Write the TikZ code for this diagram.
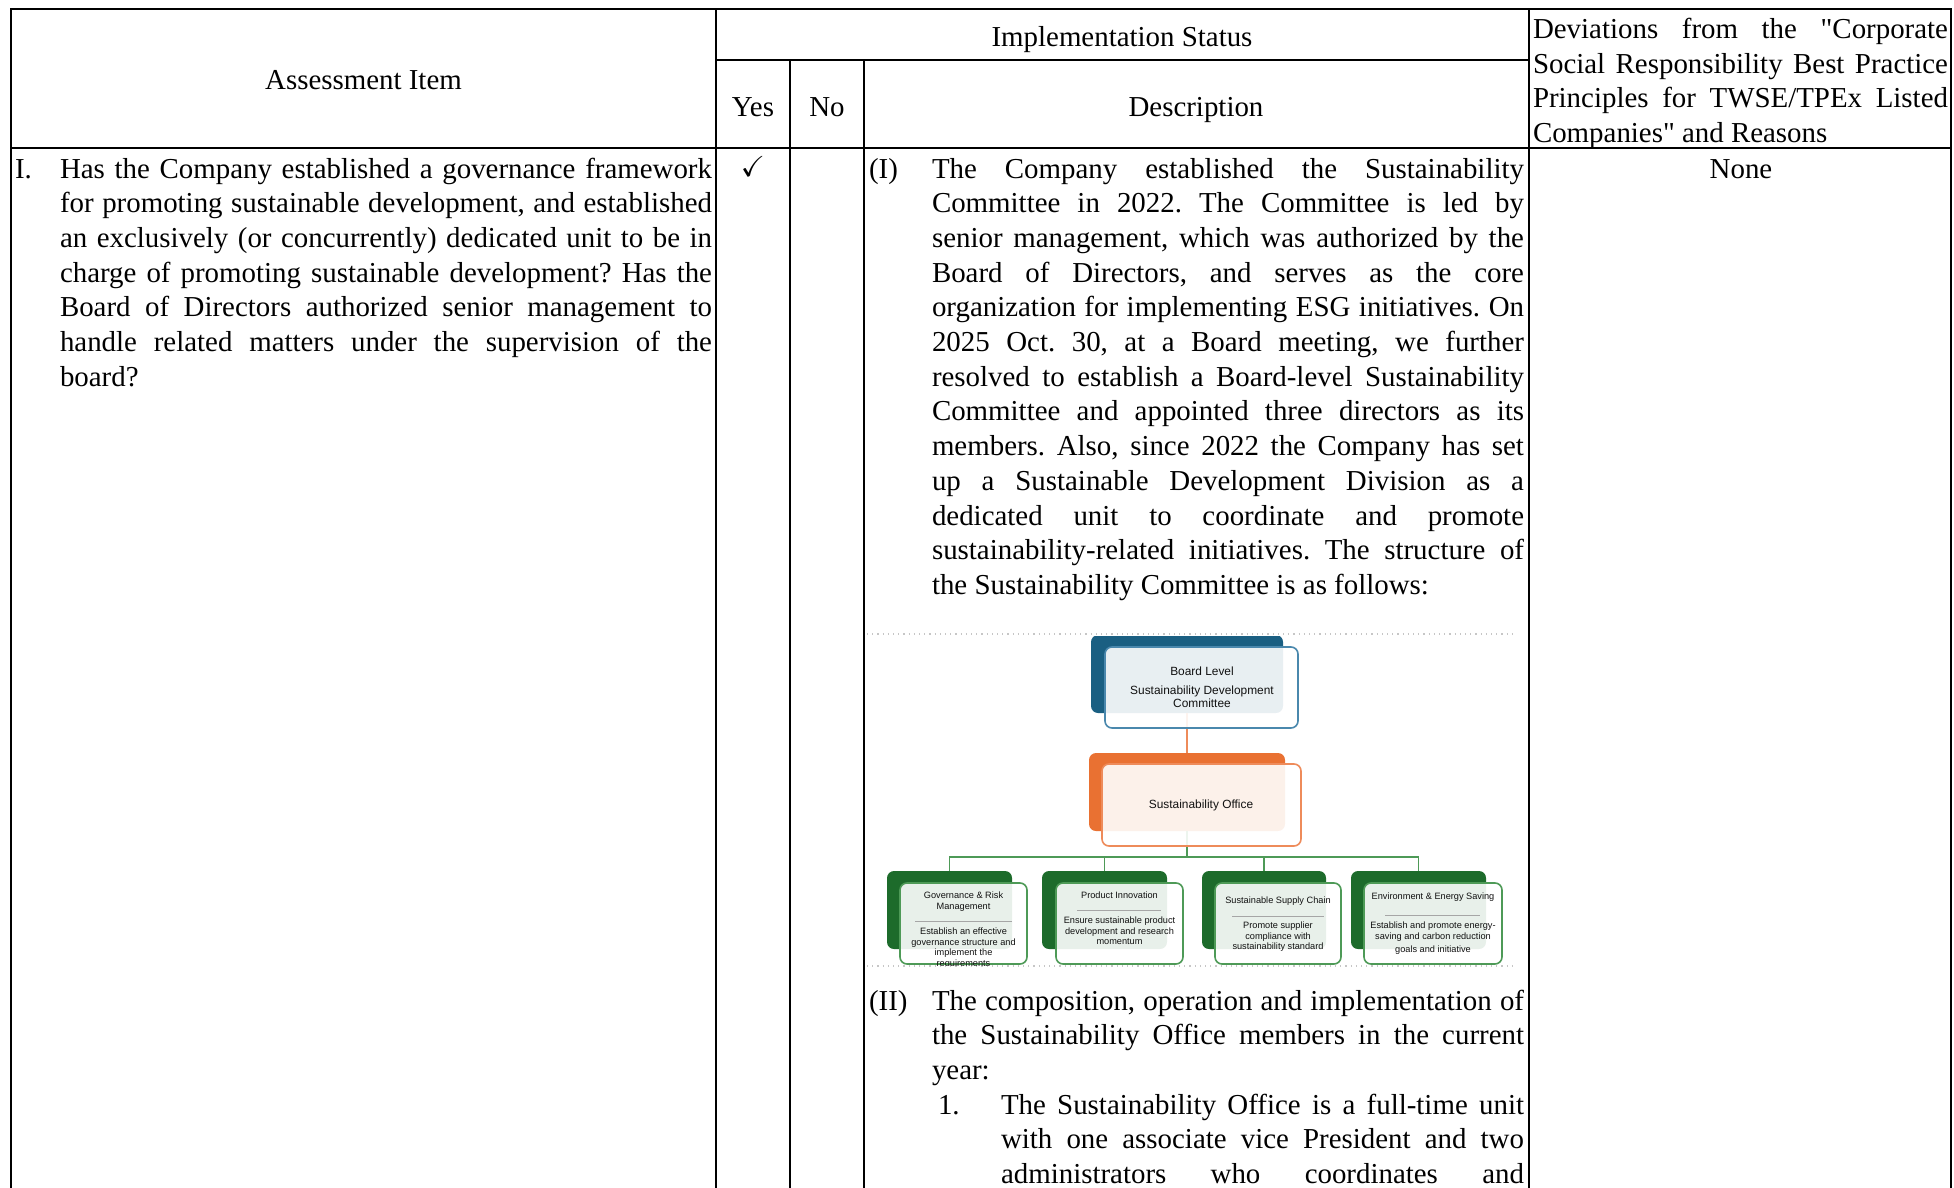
\documentclass[tikz,border=0pt]{standalone}
\usepackage{fontspec}
\usepackage{amssymb}
\setmainfont{Liberation Serif}[Ligatures=TeXOff]
\newfontfamily\chartfont{Liberation Sans}

\definecolor{boardblue}{HTML}{1A5F82}
\definecolor{boardline}{HTML}{4A88AD}
\definecolor{officeorange}{HTML}{E97132}
\definecolor{officeline}{HTML}{EE8B5A}
\definecolor{unitgreen}{HTML}{1D6B2B}
\definecolor{unitline}{HTML}{4E9A57}
\definecolor{chartink}{HTML}{111111}

\tikzset{
  tableline/.style={line width=1pt, black, line cap=rect},
  body/.style={font=\fontsize{14.45}{17.35}\selectfont\frenchspacing, inner sep=0pt, outer sep=0pt},
  para/.style={body, align=justify, anchor=base west},
  backbox/.style={rounded corners=3.5pt, inner sep=0pt, outer sep=0pt, minimum height=39pt},
  frontbox/.style={draw, line width=0.8pt, fill=white, fill opacity=0.9, rounded corners=3.5pt,
    inner sep=0pt, outer sep=0pt, minimum height=40.5pt},
  chartbig/.style={font=\chartfont\fontsize{5.95}{6.5}\selectfont, text=chartink, inner sep=0pt, align=center},
  chartsmall/.style={font=\chartfont\fontsize{4.6}{5.3}\selectfont, text=chartink, inner sep=0pt, align=center},
  divider/.style={line width=0.5pt, gray!70},
  tree/.style={line width=0.8pt}
}

\begin{document}
\begin{tikzpicture}[x=0.5pt, y=-0.5pt]

  \useasboundingbox (0,0) rectangle (1954,1188);

  % Table rules
  \draw [tableline] (11,9) -- (1951,9);
  \draw [tableline] (716,60) -- (1529,60);
  \draw [tableline] (11,148) -- (1951,148);
  \draw [tableline] (11,9) -- (11,1190);
  \draw [tableline] (716,9) -- (716,1190);
  \draw [tableline] (790,60) -- (790,1190);
  \draw [tableline] (864,60) -- (864,1190);
  \draw [tableline] (1529,9) -- (1529,1190);
  \draw [tableline] (1951,9) -- (1951,1190);

  % Header cells
  \node [body, anchor=base] (itemhead) at (363.5,89.5) {Assessment Item};
  \node [body, anchor=base] (statushead) at (1122,46.5) {Implementation Status};
  \node [body, anchor=base] (yeshead) at (753,116.5) {Yes};
  \node [body, anchor=base] (nohead) at (827,116.5) {No};
  \node [body, anchor=base] (deschead) at (1196,116.5) {Description};
  \node [para, text width=207.5pt] (devhead) at (1533,38.5)
    {Deviations from the "Corporate\linebreak
     Social Responsibility Best Practice\linebreak
     Principles for TWSE/TPEx Listed\linebreak
     Companies" and Reasons};

  % Assessment item
  \node [body, anchor=base west] (itemno) at (15,178) {I.};
  \node [para, text width=326pt] (itemtext) at (60,178)
    {Has the Company established a governance framework\linebreak
     for promoting sustainable development, and established\linebreak
     an exclusively (or concurrently) dedicated unit to be in\linebreak
     charge of promoting sustainable development? Has the\linebreak
     Board of Directors authorized senior management to\linebreak
     handle related matters under the supervision of the\linebreak
     board?};

  \node [body] (yesmark) at (753,166) {$\checkmark$};
  \node [body, anchor=base] (devnone) at (1741,178) {None};

  % Description, part (I)
  \node [body, anchor=base west] (partone) at (869,178) {(I)};
  \node [para, text width=296pt] (partonetext) at (932,178)
    {The Company established the Sustainability\linebreak
     Committee in 2022. The Committee is led by\linebreak
     senior management, which was authorized by the\linebreak
     Board of Directors, and serves as the core\linebreak
     organization for implementing ESG initiatives. On\linebreak
     2025 Oct. 30, at a Board meeting, we further\linebreak
     resolved to establish a Board-level Sustainability\linebreak
     Committee and appointed three directors as its\linebreak
     members. Also, since 2022 the Company has set\linebreak
     up a Sustainable Development Division as a\linebreak
     dedicated unit to coordinate and promote\linebreak
     sustainability-related initiatives. The structure of\linebreak
     the Sustainability Committee is as follows:};

  % Committee chart
  \draw [dotted, gray!45, line width=0.6pt] (867,634) -- (1512,634);
  \draw [dotted, gray!45, line width=0.6pt] (867,966) -- (1512,966);

  \begin{scope}
    \clip (866,636) rectangle (1516,965);

    \node [backbox, fill=boardblue, minimum width=96pt] (boardback) at (1187,674) {};
    \node [backbox, fill=officeorange, minimum width=98pt] (officeback) at (1187,792) {};
    \node [backbox, fill=unitgreen, minimum width=62.5pt] (govback) at (949.5,910) {};
    \node [backbox, fill=unitgreen, minimum width=62.5pt] (prodback) at (1104.5,910) {};
    \node [backbox, fill=unitgreen, minimum width=62pt] (supplyback) at (1264,910) {};
    \node [backbox, fill=unitgreen, minimum width=67.5pt] (envback) at (1418.5,910) {};

    % Lines between levels
    \coordinate (bar) at (1187,857);
    \draw [tree, officeline] (boardback.south) -- (officeback.north);
    \draw [tree, unitline] (officeback.south) -- (bar);
    \draw [tree, unitline] (bar) -| (govback.north);
    \draw [tree, unitline] (bar) -| (prodback.north);
    \draw [tree, unitline] (bar) -| (supplyback.north);
    \draw [tree, unitline] (bar) -| (envback.north);

    \node [frontbox, draw=boardline, minimum width=96.5pt] (boardfront) at (1201.5,687.5) {};
    \node [frontbox, draw=officeline, minimum width=99.5pt, minimum height=41pt] (officefront) at (1201.5,805) {};
    \node [frontbox, draw=unitline, minimum width=63.5pt] (govfront) at (963.5,923.5) {};
    \node [frontbox, draw=unitline, minimum width=63.5pt] (prodfront) at (1119.5,923.5) {};
    \node [frontbox, draw=unitline, minimum width=63pt] (supplyfront) at (1278,923.5) {};
    \node [frontbox, draw=unitline, minimum width=69pt] (envfront) at (1433,923.5) {};

    \node [chartbig] (boardtitle) at (1202,671) {Board Level};
    \node [chartbig] (boardname) at (1202,696.5) {Sustainability Development\\Committee};
    \node [chartbig] (officename) at (1201,805) {Sustainability Office};

    \node [chartsmall] (govtitle) at (963.5,901.5) {Governance \& Risk\\Management};
    \draw [divider] (915,921) -- (1012,921);
    \node [chartsmall] (govtext) at (963.5,948)
      {Establish an effective\\governance structure and\\implement the\\requirements};

    \node [chartsmall] (prodtitle) at (1119.5,895) {Product Innovation};
    \draw [divider] (1077,910) -- (1161,910);
    \node [chartsmall] (prodtext) at (1119.5,931)
      {Ensure sustainable product\\development and research\\momentum};

    \node [chartsmall] (supplytitle) at (1278,901) {Sustainable Supply Chain};
    \draw [divider] (1232,916) -- (1324,916);
    \node [chartsmall] (supplytext) at (1278,937)
      {Promote supplier\\compliance with\\sustainability standard};

    \node [chartsmall] (envtitle) at (1433,897) {Environment \& Energy Saving};
    \draw [divider] (1385,915) -- (1480,915);
    \node [chartsmall] (envtext) at (1433,938.5)
      {Establish and promote energy-\\saving and carbon reduction\\[1.5pt]goals and initiative};
  \end{scope}

  % Description, part (II)
  \node [body, anchor=base west] (parttwo) at (869,1010) {(II)};
  \node [para, text width=296pt] (parttwotext) at (932,1010)
    {The composition, operation and implementation of\linebreak
     the Sustainability Office members in the current\linebreak
     year:};
  \node [body, anchor=base west] (pointone) at (938,1114) {1.};
  \node [para, text width=261.5pt] (pointonetext) at (1001,1114)
    {The Sustainability Office is a full-time unit\linebreak
     with one associate vice President and two\linebreak
     administrators who coordinates and\parfillskip=0pt\par};

\end{tikzpicture}
\end{document}
